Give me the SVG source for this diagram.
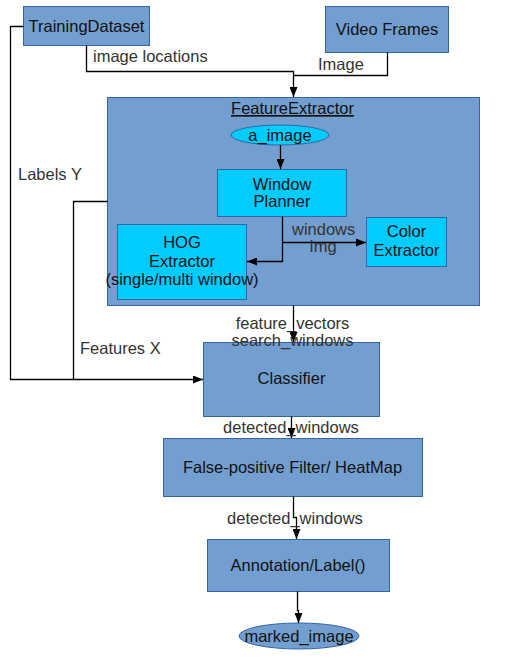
<svg xmlns="http://www.w3.org/2000/svg" width="512" height="663" viewBox="0 0 512 663">
<defs>
<marker id="ah" markerWidth="10" markerHeight="8" refX="10" refY="4" orient="auto" markerUnits="userSpaceOnUse">
<path d="M0,0 L10,4 L0,8 Z" fill="#000"/>
</marker>
<style>
.box{fill:#729fcf;stroke:#3465a4;stroke-width:1}
.cy{fill:#00ccff;stroke:#3465a4;stroke-width:1}
.t{font-family:"Liberation Sans",Arial,sans-serif;font-size:16.5px;fill:#111;text-anchor:middle}
.l{font-family:"Liberation Sans",Arial,sans-serif;font-size:16.5px;fill:#333}
.c{fill:none;stroke:#000;stroke-width:1.3}
</style>
</defs>
<rect width="512" height="663" fill="#fff"/>
<g id="TrainingDataset"><rect class="box" x="23.5" y="6.5" width="126" height="39"/><text class="t" x="86.5" y="32">TrainingDataset</text></g>
<g id="VideoFrames"><rect class="box" x="325.5" y="6.5" width="123" height="46"/><text class="t" x="387" y="35">Video Frames</text></g>
<g id="FeatureExtractor"><rect class="box" x="107.5" y="97.5" width="372" height="208"/><text class="t" x="292.5" y="114" text-decoration="underline">FeatureExtractor</text></g>
<g id="a_image"><ellipse class="cy" cx="280" cy="135" rx="49" ry="10"/><text class="t" x="280" y="141">a_image</text></g>
<g id="WindowPlanner"><rect class="cy" x="217.5" y="169.5" width="129" height="47"/><text class="t" x="282" y="190">Window</text><text class="t" x="282" y="207">Planner</text></g>
<g id="HOGExtractor"><rect class="cy" x="117.5" y="224.5" width="129" height="75"/><text class="t" x="182" y="248">HOG</text><text class="t" x="182" y="267">Extractor</text><text class="t" x="182" y="285">(single/multi window)</text></g>
<g id="ColorExtractor"><rect class="cy" x="366.5" y="217.5" width="80" height="49"/><text class="t" x="406.5" y="237">Color</text><text class="t" x="406.5" y="256">Extractor</text></g>
<g id="Classifier"><rect class="box" x="203.5" y="342.5" width="176" height="74"/><text class="t" x="291.5" y="384">Classifier</text></g>
<g id="FPFilter"><rect class="box" x="163.5" y="438.5" width="259" height="58"/><text class="t" x="292.5" y="473">False-positive Filter/ HeatMap</text></g>
<g id="Annotation"><rect class="box" x="207.5" y="539.5" width="182" height="52"/><text class="t" x="298" y="571">Annotation/Label()</text></g>
<g id="marked_image"><ellipse class="box" cx="299" cy="636" rx="60" ry="13"/><text class="t" x="299" y="642">marked_image</text></g>
<g id="connectors">
<polyline class="c" points="86.5,45.5 86.5,71.5 293.5,71.5 293.5,97" marker-end="url(#ah)"/>
<polyline class="c" points="387.5,52.5 387.5,75.5 293.5,75.5"/>
<polyline class="c" points="23.5,26.5 10.5,26.5 10.5,379.5 203,379.5" marker-end="url(#ah)"/>
<polyline class="c" points="107.5,201.5 73.5,201.5 73.5,379.5"/>
<polyline class="c" points="280.5,145 280.5,169" marker-end="url(#ah)"/>
<polyline class="c" points="282.5,216.5 282.5,261.5 247,261.5" marker-end="url(#ah)"/>
<polyline class="c" points="282.5,242.5 366,242.5" marker-end="url(#ah)"/>
<polyline class="c" points="293.5,305.5 293.5,342" marker-end="url(#ah)"/>
<polyline class="c" points="291.5,416.5 291.5,438" marker-end="url(#ah)"/>
<polyline class="c" points="293.5,496.5 293.5,517.5 296.5,517.5 296.5,539" marker-end="url(#ah)"/>
<polyline class="c" points="297.5,591.5 297.5,610.5 298.5,610.5 298.5,623" marker-end="url(#ah)"/>
<text class="l" x="93" y="62">image locations</text>
<text class="l" x="318" y="70">Image</text>
<text class="l" x="18" y="180">Labels Y</text>
<text class="l" x="80" y="354">Features X</text>
<text class="l" x="292" y="235">windows</text>
<text class="l" x="323" y="252" text-anchor="middle">Img</text>
<text class="l" x="292.5" y="329" text-anchor="middle">feature_vectors</text>
<text class="l" x="292.5" y="346" text-anchor="middle">search_windows</text>
<text class="l" x="291" y="433" text-anchor="middle">detected_windows</text>
<text class="l" x="295" y="524" text-anchor="middle">detected_windows</text>
</g>
</svg>
